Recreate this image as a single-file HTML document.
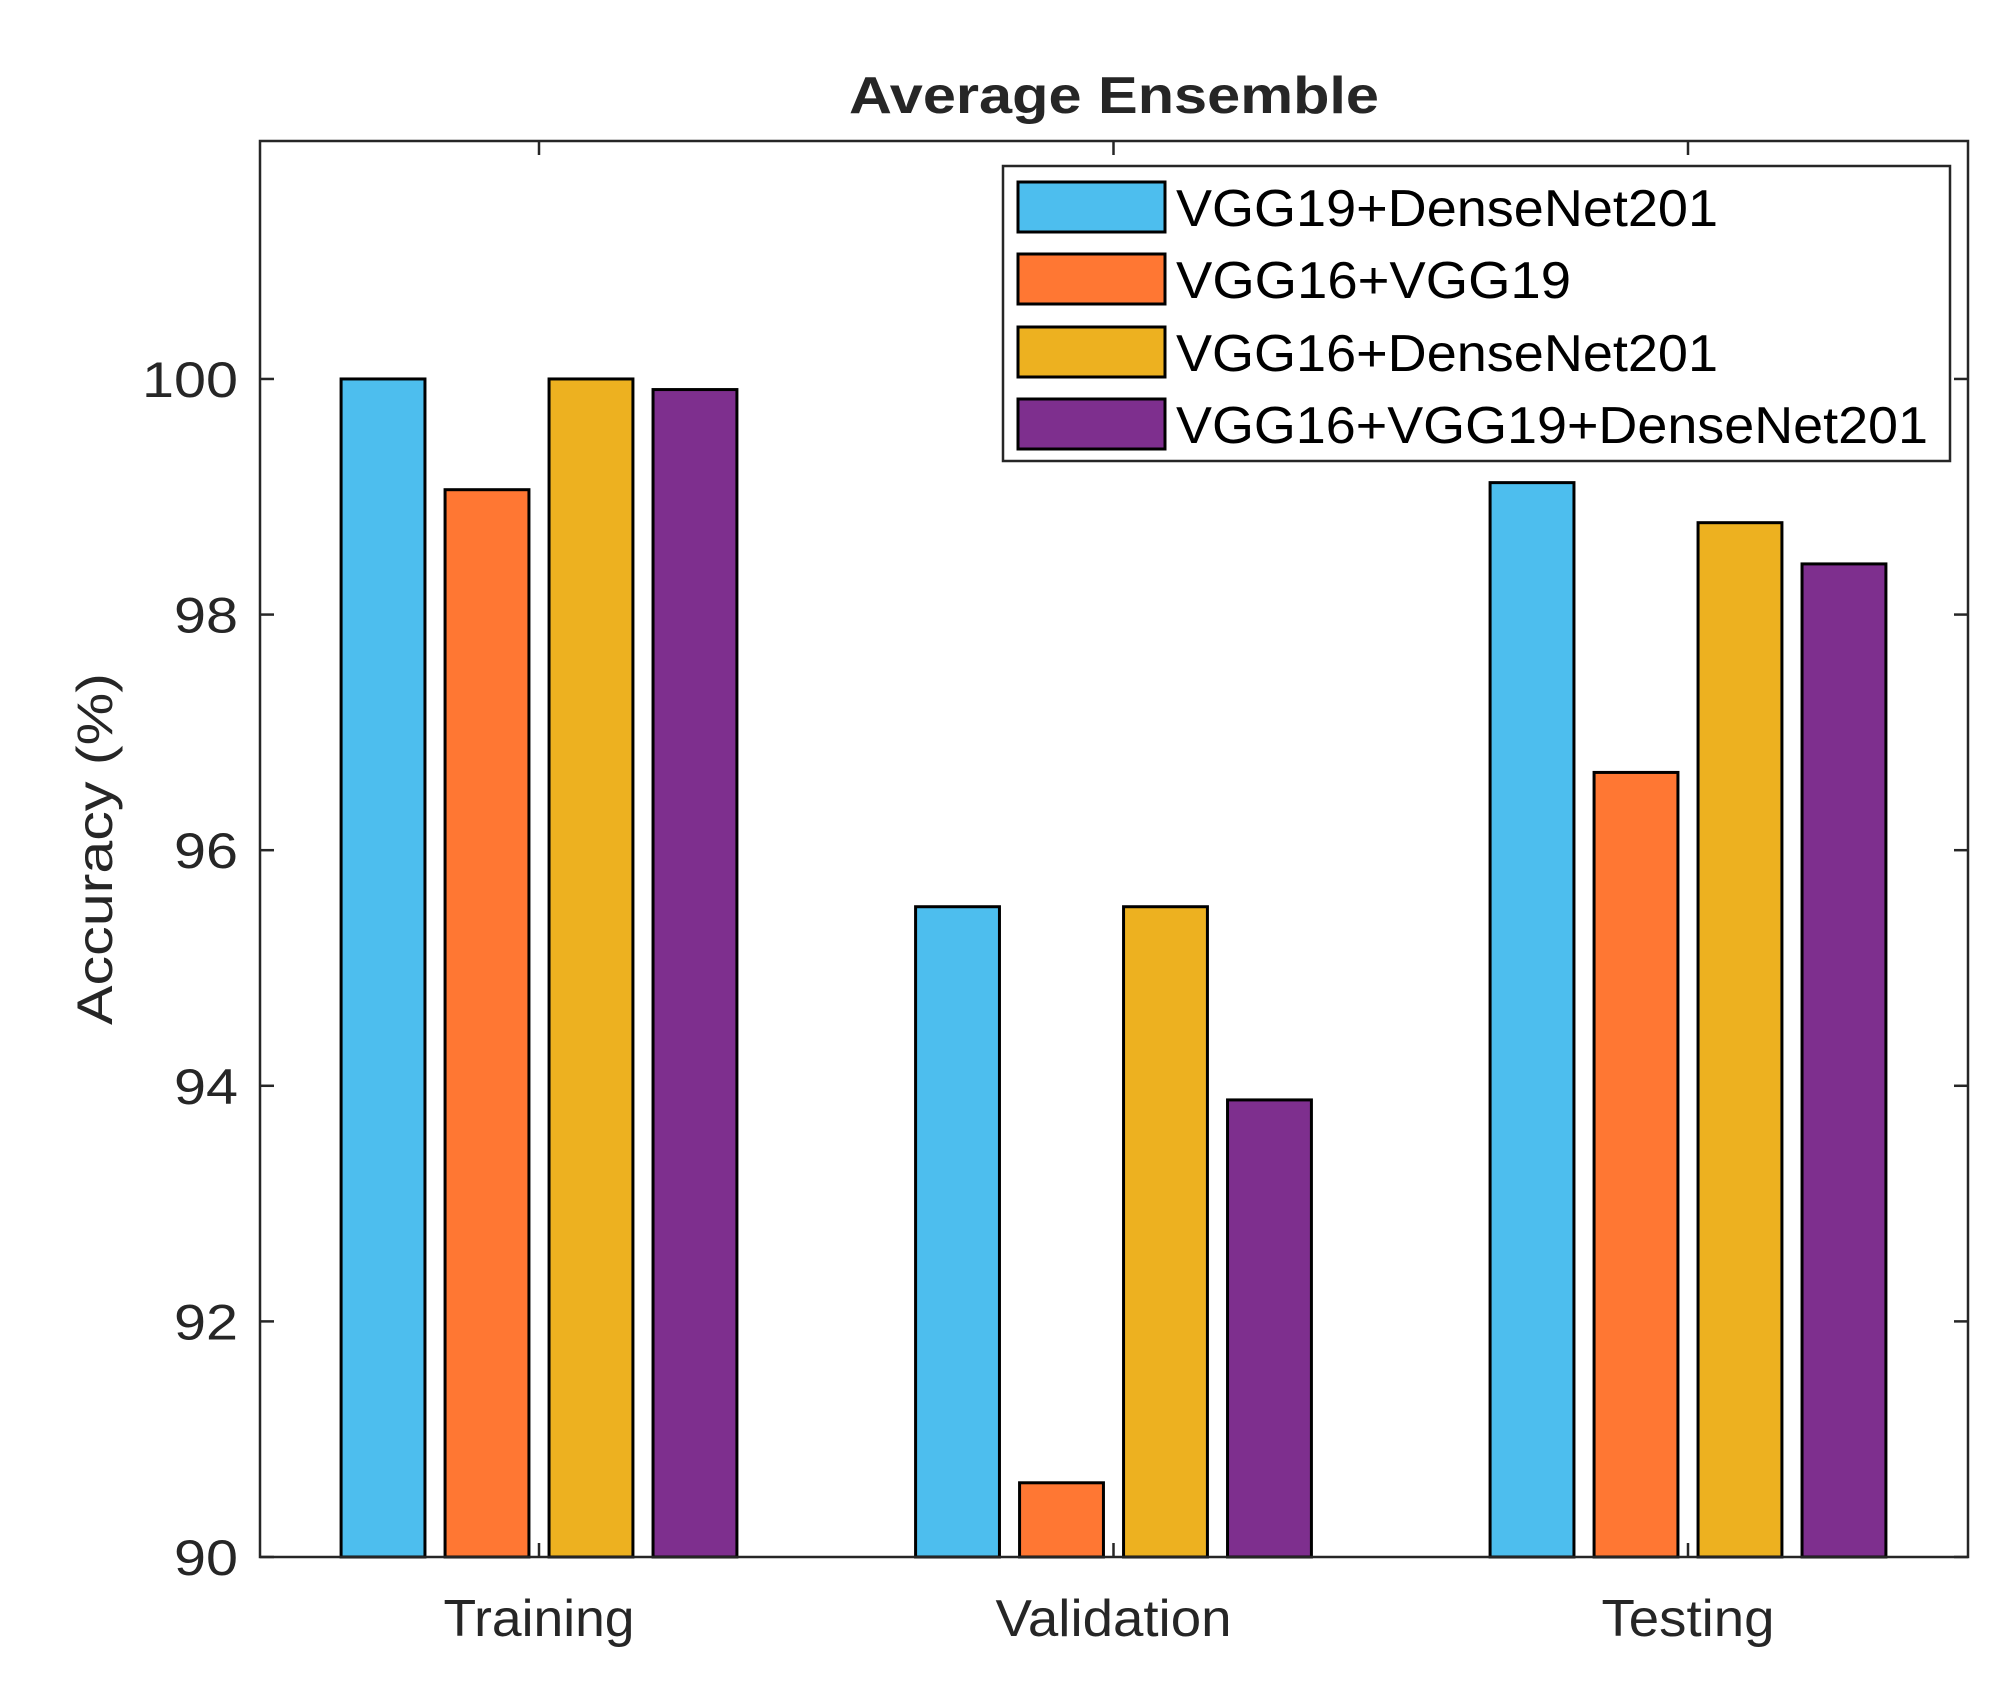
<!DOCTYPE html>
<html>
<head>
<meta charset="utf-8">
<style>
  html,body{margin:0;padding:0;background:#fff;}
  svg{display:block;}
  text{font-family:"Liberation Sans",Arial,sans-serif;fill:#262626;}
</style>
</head>
<body>
<svg id="chart" width="2008" height="1688" viewBox="0 0 2008 1688" xmlns="http://www.w3.org/2000/svg">
  <text x="1114" y="113" text-anchor="middle" font-size="52" font-weight="bold" textLength="530" lengthAdjust="spacingAndGlyphs">Average Ensemble</text>
  <text transform="translate(112,849) rotate(-90)" text-anchor="middle" font-size="50" textLength="352" lengthAdjust="spacingAndGlyphs">Accuracy (%)</text>
  <g id="plot"></g>
</svg>
<script>
const categories = ["Training", "Validation", "Testing"];
const seriesNames = ["VGG19+DenseNet201", "VGG16+VGG19", "VGG16+DenseNet201", "VGG16+VGG19+DenseNet201"];
const seriesColors = ["#4DBEEE", "#FF7733", "#EDB120", "#7E2F8E"];
const vgg19Dense = [100, 95.52, 99.12];
const vgg16Vgg19 = [99.06, 90.63, 96.66];
const vgg16Dense = [100, 95.52, 98.78];
const vgg16Vgg19Dense = [99.91, 93.88, 98.43];
const seriesValues = [vgg19Dense, vgg16Vgg19, vgg16Dense, vgg16Vgg19Dense];
const yTicks = [90, 92, 94, 96, 98, 100];
const yMin = 90, yMax = 102.02;

const L = 260, R = 1968, T = 141, B = 1557;
const NS = "http://www.w3.org/2000/svg";
const plot = document.getElementById("plot");
// category 1 center at 539, category 3 center at 1688
function xScale(v){ return 539 + (v - 1) * 574.5; }
function yScale(v){ return B - (v - yMin) / (yMax - yMin) * (B - T); }
function mk(tag, attrs){ const e = document.createElementNS(NS, tag); for (const k in attrs) e.setAttribute(k, attrs[k]); plot.appendChild(e); return e; }

const barW = 0.146, step = 0.181;
seriesValues.forEach((vals, s) => {
  vals.forEach((v, c) => {
    const xc = c + 1 + (s - 1.5) * step;
    const x0 = xScale(xc - barW / 2), x1 = xScale(xc + barW / 2);
    const r = mk("rect", {x: x0, y: yScale(v), width: x1 - x0, height: B - yScale(v), fill: seriesColors[s], stroke: "#000", "stroke-width": 3});
    
    
  });
});

const box = mk("rect", {x: L, y: T, width: R - L, height: B - T, fill: "none", stroke: "#262626", "stroke-width": 2.5});



yTicks.forEach(t => {
  const y = yScale(t);
  mk("line", {x1: L, y1: y, x2: L + 14, y2: y, stroke: "#262626", "stroke-width": 2.5});
  mk("line", {x1: R, y1: y, x2: R - 14, y2: y, stroke: "#262626", "stroke-width": 2.5});
  const tx = mk("text", {x: L - 22, y: y + 18, "text-anchor": "end", "font-size": 50, textLength: String(t).length * 32, lengthAdjust: "spacingAndGlyphs"});
  tx.textContent = t;
  
  
});

const xLabelW = [191, 236, 173];
categories.forEach((c, i) => {
  const x = xScale(i + 1);
  mk("line", {x1: x, y1: B, x2: x, y2: B - 14, stroke: "#262626", "stroke-width": 2.5});
  mk("line", {x1: x, y1: T, x2: x, y2: T + 14, stroke: "#262626", "stroke-width": 2.5});
  const tx = mk("text", {x: x, y: 1636, "text-anchor": "middle", "font-size": 52, textLength: xLabelW[i], lengthAdjust: "spacingAndGlyphs"});
  tx.textContent = c;
  
  
});

const lg = mk("rect", {x: 1003, y: 166, width: 947, height: 295, fill: "#fff", stroke: "#262626", "stroke-width": 2.5});


const rowY = [207, 279, 352, 424];
const textW = [542, 395, 542, 752];
seriesNames.forEach((n, i) => {
  const sw = mk("rect", {x: 1018, y: rowY[i] - 25, width: 147, height: 50, fill: seriesColors[i], stroke: "#000", "stroke-width": 3});
  
  
  const tx = mk("text", {x: 1176, y: rowY[i] + 19, "font-size": 52, textLength: textW[i], lengthAdjust: "spacingAndGlyphs", style: "fill:#000"});
  tx.textContent = n;
  
  
});
</script>
</body>
</html>
